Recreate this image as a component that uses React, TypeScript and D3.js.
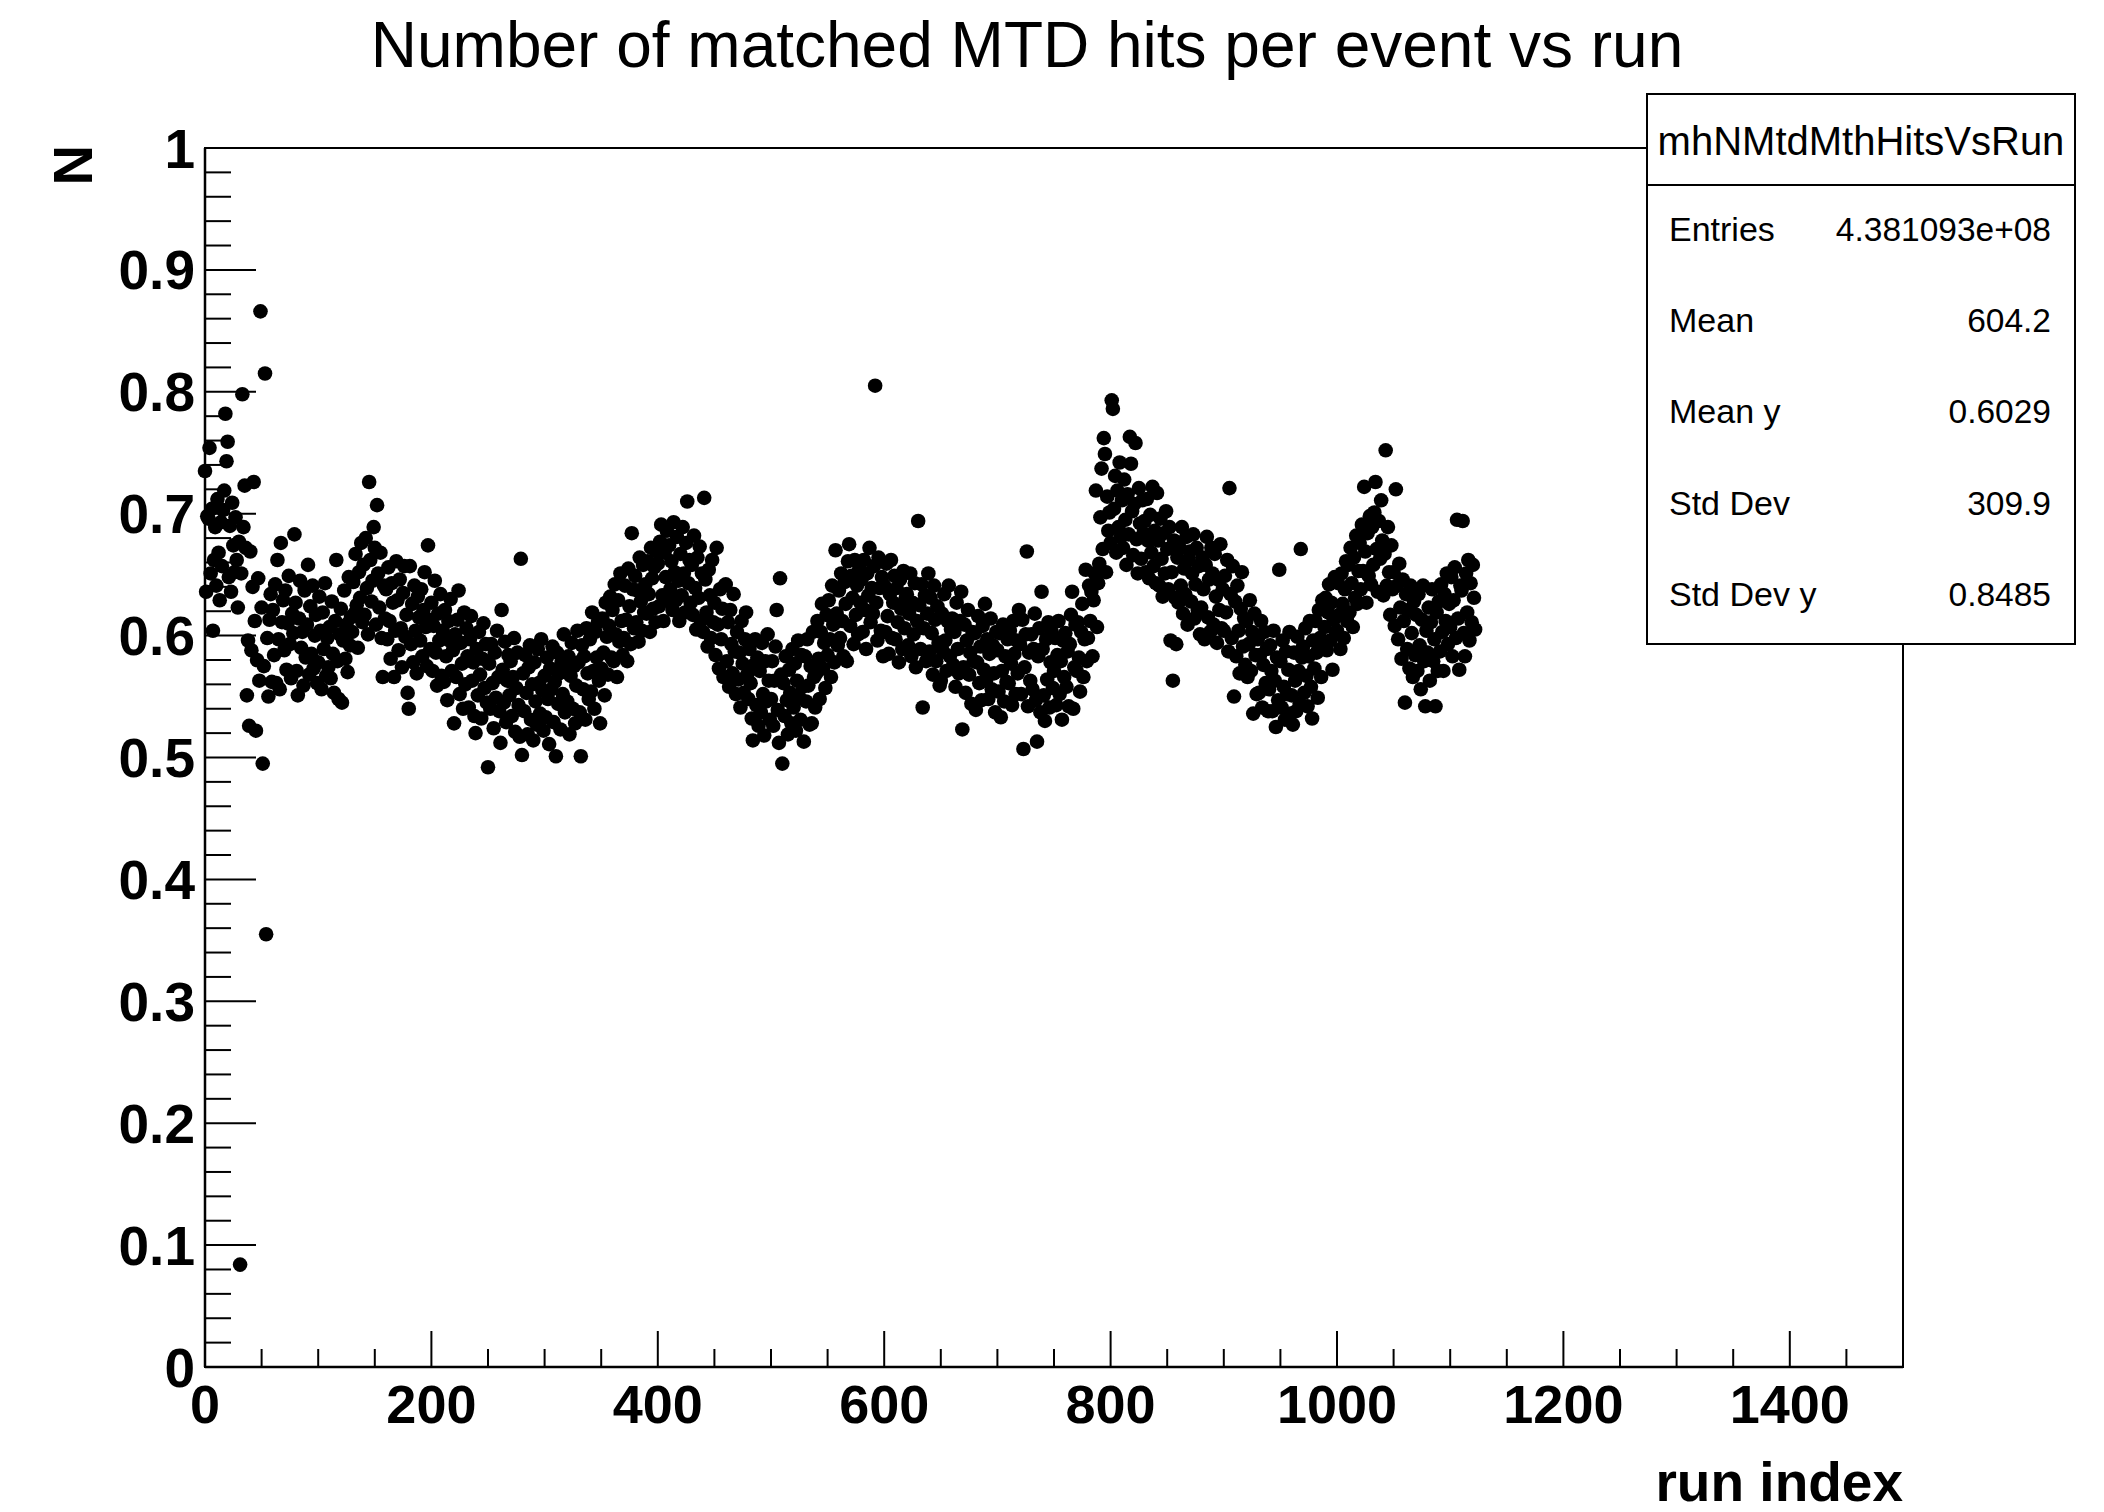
import React from 'react';
import * as d3 from 'd3';

// ---- data (one value per run index, starting at run 0) ----
const meanMatchedHits: number[] = [
  0.735, 0.636, 0.698, 0.696, 0.754, 0.651, 0.704, 0.604, 0.662, 0.689,
  0.641, 0.712, 0.668, 0.629, 0.693, 0.657, 0.703, 0.719, 0.782, 0.743,
  0.759, 0.648, 0.690, 0.636, 0.709, 0.674, 0.652, 0.697, 0.662, 0.623,
  0.677, 0.084, 0.651, 0.798, 0.689, 0.723, 0.672, 0.551, 0.596, 0.526,
  0.669, 0.588, 0.640, 0.726, 0.612, 0.522, 0.580, 0.647, 0.563, 0.866,
  0.623, 0.495, 0.575, 0.815, 0.355, 0.598, 0.550, 0.613, 0.634, 0.562,
  0.621, 0.584, 0.642, 0.561, 0.662, 0.597, 0.556, 0.676, 0.611, 0.629,
  0.588, 0.637, 0.572, 0.610, 0.649, 0.593, 0.565, 0.618, 0.602, 0.683,
  0.627, 0.571, 0.551, 0.614, 0.645, 0.590, 0.603, 0.559, 0.637, 0.582,
  0.609, 0.658, 0.568, 0.624, 0.585, 0.641, 0.573, 0.600, 0.617, 0.561,
  0.578, 0.632, 0.604, 0.556, 0.619, 0.589, 0.643, 0.567, 0.598, 0.574,
  0.607, 0.565, 0.628, 0.585, 0.553, 0.612, 0.662, 0.579, 0.548, 0.601,
  0.622, 0.545, 0.596, 0.637, 0.581, 0.609, 0.570, 0.648, 0.592, 0.615,
  0.603, 0.644, 0.618, 0.667, 0.625, 0.590, 0.652, 0.631, 0.676, 0.611,
  0.658, 0.617, 0.680, 0.639, 0.601, 0.726, 0.662, 0.628, 0.645, 0.689,
  0.672, 0.609, 0.707, 0.651, 0.623, 0.668, 0.598, 0.566, 0.641, 0.614,
  0.638, 0.597, 0.656, 0.612, 0.581, 0.643, 0.627, 0.566, 0.604, 0.661,
  0.629, 0.588, 0.646, 0.606, 0.574, 0.635, 0.657, 0.599, 0.617, 0.553,
  0.540, 0.657, 0.593, 0.626, 0.578, 0.641, 0.604, 0.569, 0.632, 0.615,
  0.596, 0.638, 0.583, 0.621, 0.652, 0.607, 0.575, 0.674, 0.613, 0.589,
  0.627, 0.571, 0.608, 0.645, 0.586, 0.559, 0.618, 0.596, 0.634, 0.567,
  0.604, 0.562, 0.621, 0.583, 0.547, 0.612, 0.596, 0.630, 0.571, 0.588,
  0.528, 0.601, 0.566, 0.613, 0.637, 0.552, 0.594, 0.577, 0.540, 0.619,
  0.560, 0.606, 0.583, 0.541, 0.597, 0.616, 0.563, 0.578, 0.534, 0.520,
  0.589, 0.551, 0.603, 0.568, 0.532, 0.581, 0.610, 0.557, 0.593, 0.545,
  0.492, 0.577, 0.540, 0.593, 0.561, 0.524, 0.586, 0.549, 0.604, 0.566,
  0.538, 0.512, 0.621, 0.572, 0.545, 0.595, 0.529, 0.563, 0.584, 0.551,
  0.579, 0.534, 0.566, 0.598, 0.521, 0.557, 0.586, 0.543, 0.517, 0.663,
  0.502, 0.569, 0.538, 0.584, 0.553, 0.519, 0.574, 0.592, 0.531, 0.560,
  0.514, 0.578, 0.546, 0.527, 0.589, 0.561, 0.536, 0.597, 0.555, 0.522,
  0.567, 0.533, 0.582, 0.548, 0.511, 0.573, 0.556, 0.591, 0.529, 0.562,
  0.501, 0.586, 0.544, 0.569, 0.523, 0.578, 0.552, 0.601, 0.537, 0.571,
  0.546, 0.583, 0.519, 0.567, 0.594, 0.540, 0.575, 0.528, 0.559, 0.604,
  0.578, 0.537, 0.501, 0.592, 0.556, 0.583, 0.531, 0.606, 0.569, 0.548,
  0.597, 0.554, 0.619, 0.571, 0.540, 0.603, 0.582, 0.611, 0.563, 0.528,
  0.573, 0.614, 0.586, 0.551, 0.627, 0.599, 0.568, 0.608, 0.632, 0.582,
  0.621, 0.579, 0.642, 0.601, 0.566, 0.629, 0.595, 0.651, 0.612, 0.584,
  0.598, 0.641, 0.613, 0.579, 0.655, 0.624, 0.593, 0.684, 0.638, 0.606,
  0.649, 0.611, 0.637, 0.595, 0.664, 0.628, 0.604, 0.658, 0.619, 0.642,
  0.618, 0.661, 0.634, 0.603, 0.672, 0.647, 0.622, 0.656, 0.611, 0.669,
  0.659, 0.624, 0.677, 0.691, 0.633, 0.612, 0.668, 0.648, 0.686, 0.629,
  0.674, 0.638, 0.661, 0.621, 0.693, 0.652, 0.629, 0.681, 0.645, 0.612,
  0.667, 0.633, 0.689, 0.651, 0.619, 0.676, 0.710, 0.643, 0.662, 0.627,
  0.658, 0.617, 0.682, 0.639, 0.605, 0.664, 0.631, 0.673, 0.612, 0.651,
  0.603, 0.713, 0.646, 0.619, 0.591, 0.654, 0.633, 0.598, 0.662, 0.611,
  0.627, 0.584, 0.672, 0.609, 0.573, 0.638, 0.597, 0.622, 0.566, 0.641,
  0.642, 0.579, 0.611, 0.558, 0.621, 0.593, 0.569, 0.634, 0.587, 0.552,
  0.603, 0.564, 0.586, 0.541, 0.612, 0.577, 0.553, 0.597, 0.619, 0.568,
  0.548, 0.589, 0.561, 0.532, 0.514, 0.576, 0.597, 0.543, 0.582, 0.526,
  0.571, 0.537, 0.594, 0.552, 0.518, 0.579, 0.546, 0.601, 0.563, 0.531,
  0.548, 0.579, 0.526, 0.563, 0.591, 0.621, 0.539, 0.512, 0.647, 0.568,
  0.495, 0.561, 0.534, 0.583, 0.547, 0.519, 0.572, 0.553, 0.528, 0.589,
  0.541, 0.577, 0.522, 0.563, 0.596, 0.549, 0.531, 0.584, 0.558, 0.513,
  0.583, 0.546, 0.597, 0.559, 0.527, 0.575, 0.528, 0.603, 0.566, 0.541,
  0.569, 0.612, 0.581, 0.548, 0.603, 0.626, 0.573, 0.594, 0.557, 0.617,
  0.584, 0.629, 0.597, 0.566, 0.641, 0.609, 0.578, 0.670, 0.618, 0.592,
  0.637, 0.598, 0.651, 0.612, 0.583, 0.644, 0.626, 0.579, 0.661, 0.675,
  0.608, 0.649, 0.631, 0.593, 0.662, 0.617, 0.641, 0.601, 0.655, 0.627,
  0.646, 0.603, 0.662, 0.621, 0.589, 0.651, 0.633, 0.672, 0.611, 0.639,
  0.618, 0.657, 0.805, 0.627, 0.596, 0.664, 0.639, 0.604, 0.648, 0.583,
  0.641, 0.603, 0.659, 0.616, 0.585, 0.634, 0.662, 0.598, 0.627, 0.649,
  0.597, 0.639, 0.611, 0.578, 0.646, 0.622, 0.589, 0.653, 0.606, 0.631,
  0.634, 0.592, 0.618, 0.651, 0.583, 0.627, 0.601, 0.643, 0.574, 0.612,
  0.694, 0.625, 0.589, 0.642, 0.541, 0.606, 0.633, 0.579, 0.618, 0.651,
  0.587, 0.631, 0.602, 0.568, 0.641, 0.613, 0.579, 0.624, 0.594, 0.559,
  0.563, 0.618, 0.587, 0.634, 0.596, 0.571, 0.612, 0.641, 0.583, 0.605,
  0.614, 0.576, 0.603, 0.558, 0.627, 0.589, 0.569, 0.612, 0.636, 0.523,
  0.574, 0.609, 0.553, 0.596, 0.621, 0.568, 0.586, 0.544, 0.603, 0.579,
  0.602, 0.539, 0.578, 0.616, 0.561, 0.591, 0.547, 0.608, 0.572, 0.626,
  0.563, 0.597, 0.548, 0.585, 0.614, 0.556, 0.592, 0.569, 0.537, 0.603,
  0.588, 0.554, 0.602, 0.533, 0.571, 0.609, 0.546, 0.583, 0.562, 0.597,
  0.561, 0.604, 0.577, 0.543, 0.612, 0.585, 0.552, 0.596, 0.569, 0.621,
  0.593, 0.552, 0.613, 0.507, 0.574, 0.601, 0.669, 0.542, 0.586, 0.563,
  0.601, 0.556, 0.589, 0.618, 0.547, 0.513, 0.583, 0.606, 0.537, 0.636,
  0.589, 0.551, 0.530, 0.597, 0.564, 0.611, 0.541, 0.578, 0.603, 0.557,
  0.571, 0.598, 0.543, 0.584, 0.612, 0.552, 0.579, 0.531, 0.596, 0.566,
  0.602, 0.558, 0.587, 0.542, 0.593, 0.617, 0.636, 0.540, 0.574, 0.609,
  0.571, 0.611, 0.582, 0.554, 0.603, 0.626, 0.566, 0.597, 0.654, 0.579,
  0.598, 0.641, 0.612, 0.636, 0.583, 0.629, 0.651, 0.719, 0.607, 0.643,
  0.659, 0.697, 0.737, 0.671, 0.762, 0.749, 0.652, 0.714, 0.686, 0.701,
  0.676, 0.793, 0.786, 0.704, 0.731, 0.668, 0.719, 0.689, 0.742, 0.681,
  0.711, 0.672, 0.728, 0.695, 0.658, 0.716, 0.683, 0.763, 0.741, 0.702,
  0.666, 0.708, 0.758, 0.679, 0.651, 0.721, 0.692, 0.663, 0.711, 0.684,
  0.694, 0.652, 0.712, 0.678, 0.647, 0.699, 0.668, 0.722, 0.657, 0.686,
  0.643, 0.717, 0.678, 0.641, 0.696, 0.663, 0.632, 0.684, 0.651, 0.702,
  0.671, 0.638, 0.689, 0.596, 0.652, 0.563, 0.678, 0.631, 0.593, 0.664,
  0.627, 0.672, 0.641, 0.689, 0.618, 0.655, 0.634, 0.681, 0.609, 0.662,
  0.669, 0.628, 0.651, 0.683, 0.614, 0.642, 0.672, 0.621, 0.657, 0.601,
  0.623, 0.664, 0.638, 0.597, 0.658, 0.681, 0.615, 0.646, 0.603, 0.672,
  0.651, 0.609, 0.667, 0.632, 0.594, 0.646, 0.621, 0.675, 0.606, 0.638,
  0.604, 0.649, 0.619, 0.662, 0.587, 0.721, 0.634, 0.598, 0.657, 0.550,
  0.628, 0.583, 0.641, 0.604, 0.569, 0.622, 0.652, 0.591, 0.614, 0.576,
  0.612, 0.566, 0.593, 0.629, 0.571, 0.603, 0.536, 0.618, 0.584, 0.552,
  0.597, 0.553, 0.584, 0.612, 0.541, 0.576, 0.603, 0.561, 0.589, 0.538,
  0.556, 0.592, 0.571, 0.538, 0.604, 0.563, 0.525, 0.582, 0.547, 0.654,
  0.579, 0.541, 0.596, 0.558, 0.531, 0.587, 0.552, 0.572, 0.603, 0.536,
  0.551, 0.527, 0.586, 0.563, 0.538, 0.599, 0.571, 0.544, 0.671, 0.582,
  0.591, 0.553, 0.606, 0.567, 0.542, 0.583, 0.612, 0.558, 0.532, 0.596,
  0.573, 0.612, 0.586, 0.549, 0.621, 0.598, 0.566, 0.629, 0.591, 0.607,
  0.631, 0.588, 0.619, 0.642, 0.596, 0.627, 0.572, 0.613, 0.648, 0.601,
  0.604, 0.643, 0.617, 0.589, 0.651, 0.626, 0.598, 0.638, 0.661, 0.612,
  0.658, 0.619, 0.672, 0.643, 0.607, 0.664, 0.631, 0.682, 0.626, 0.653,
  0.676, 0.638, 0.691, 0.653, 0.722, 0.669, 0.627, 0.684, 0.649, 0.698,
  0.642, 0.689, 0.658, 0.701, 0.726, 0.671, 0.636, 0.694, 0.663, 0.711,
  0.678, 0.633, 0.667, 0.752, 0.641, 0.689, 0.652, 0.617, 0.674, 0.638,
  0.652, 0.608, 0.720, 0.641, 0.597, 0.659, 0.623, 0.581, 0.646, 0.612,
  0.545, 0.634, 0.589, 0.621, 0.573, 0.641, 0.602, 0.566, 0.628, 0.584,
  0.617, 0.571, 0.634, 0.592, 0.556, 0.613, 0.641, 0.579, 0.542, 0.604,
  0.586, 0.623, 0.563, 0.611, 0.638, 0.579, 0.597, 0.542, 0.619, 0.571,
  0.628, 0.587, 0.642, 0.603, 0.571, 0.634, 0.612, 0.651, 0.593, 0.626,
  0.607, 0.648, 0.583, 0.629, 0.656, 0.598, 0.695, 0.614, 0.572, 0.641,
  0.637, 0.694, 0.602, 0.583, 0.651, 0.619, 0.662, 0.596, 0.643, 0.611,
  0.658, 0.631, 0.605,
];

const xMajorTicks = [0, 200, 400, 600, 800, 1000, 1200, 1400];
const xTickLabels = ['0', '200', '400', '600', '800', '1000', '1200', '1400'];
const yMajorTicks = [0, 0.1, 0.2, 0.3, 0.4, 0.5, 0.6, 0.7, 0.8, 0.9, 1];
const yTickLabels = ['0', '0.1', '0.2', '0.3', '0.4', '0.5', '0.6', '0.7', '0.8', '0.9', '1'];
const statLabels = ['Entries', 'Mean', 'Mean y', 'Std Dev', 'Std Dev y'];
const statValues = ['4.381093e+08', '604.2', '0.6029', '309.9', '0.8485'];

const TITLE = 'Number of matched MTD hits per event vs run';
const HIST_NAME = 'mhNMtdMthHitsVsRun';
const X_TITLE = 'run index';
const Y_TITLE = 'N';

const W = 2104;
const H = 1512;
const FONT = "'Liberation Sans', Arial, Helvetica, sans-serif";

export default function App() {
  const frame = { left: 205, right: 1903, top: 148, bottom: 1367 };
  const x = d3.scaleLinear().domain([0, 1500]).range([frame.left, frame.right]);
  const y = d3.scaleLinear().domain([0, 1]).range([frame.bottom, frame.top]);

  const xMinor = d3.range(0, 1501, 50);
  const yMinor = d3.range(0, 51).map((i) => i / 50);

  const yMajLen = 51, yMinLen = 26;
  const xMajLen = 36, xMinLen = 18;

  const box = { left: 1647, right: 2075, top: 94, sep: 185, bottom: 644 };
  const rowBaselines = [241, 332, 423, 515, 606];

  return (
    <div style={{ position: 'absolute', left: 0, top: 0, width: W, height: H, background: '#fff' }}>
      <svg width={W} height={H} viewBox={`0 0 ${W} ${H}`} style={{ display: 'block', fontFamily: FONT }}>
        <rect x={0} y={0} width={W} height={H} fill="#fff" />
        {/* title */}
        <text x={1027} y={67} fontSize={64} textAnchor="middle" fill="#000">{TITLE}</text>

        {/* frame */}
        <rect x={frame.left} y={frame.top} width={frame.right - frame.left} height={frame.bottom - frame.top}
          fill="none" stroke="#000" strokeWidth={2} />

        {/* y ticks */}
        {yMinor.map((v, i) => (
          <line key={`ym${i}`} x1={frame.left} x2={frame.left + (i % 5 === 0 ? yMajLen : yMinLen)}
            y1={y(v)} y2={y(v)} stroke="#000" strokeWidth={2} />
        ))}
        {/* x ticks */}
        {xMinor.map((v, i) => (
          <line key={`xm${i}`} x1={x(v)} x2={x(v)} y1={frame.bottom}
            y2={frame.bottom - (v % 200 === 0 ? xMajLen : xMinLen)} stroke="#000" strokeWidth={2} />
        ))}
        {/* axis lines */}
        <line x1={frame.left} x2={frame.left} y1={frame.top} y2={frame.bottom} stroke="#000" strokeWidth={2.5} />
        <line x1={frame.left} x2={frame.right} y1={frame.bottom} y2={frame.bottom} stroke="#000" strokeWidth={2.5} />

        {/* y labels */}
        {yMajorTicks.map((v, i) => (
          <text key={`yl${i}`} x={195} y={y(v) + 19.5} fontSize={55} fontWeight="bold" textAnchor="end" fill="#000">
            {yTickLabels[i]}
          </text>
        ))}
        {/* x labels */}
        {xMajorTicks.map((v, i) => (
          <text key={`xl${i}`} x={x(v)} y={1423} fontSize={54} fontWeight="bold" textAnchor="middle" fill="#000">
            {xTickLabels[i]}
          </text>
        ))}

        {/* axis titles */}
        <text x={1903} y={1501} fontSize={55} fontWeight="bold" textAnchor="end" fill="#000">{X_TITLE}</text>
        <text transform="translate(92,145) rotate(-90)" fontSize={56} fontWeight="bold" textAnchor="end" fill="#000">{Y_TITLE}</text>

        {/* data points */}
        <g fill="#000">
          {meanMatchedHits.map((v, i) => (
            <circle key={`p${i}`} cx={x(i)} cy={y(v)} r={7.3} />
          ))}
        </g>

        {/* stats box */}
        <rect x={box.left} y={box.top} width={box.right - box.left} height={box.bottom - box.top}
          fill="#fff" stroke="#000" strokeWidth={2} />
        <line x1={box.left} x2={box.right} y1={box.sep} y2={box.sep} stroke="#000" strokeWidth={2} />
        <text x={(box.left + box.right) / 2} y={155} fontSize={40} textAnchor="middle" fill="#000">{HIST_NAME}</text>
        {statLabels.map((lab, i) => (
          <g key={`s${i}`}>
            <text x={1669} y={rowBaselines[i]} fontSize={34} fill="#000">{lab}</text>
            <text x={2051} y={rowBaselines[i]} fontSize={33.5} textAnchor="end" fill="#000">{statValues[i]}</text>
          </g>
        ))}
      </svg>
    </div>
  );
}
